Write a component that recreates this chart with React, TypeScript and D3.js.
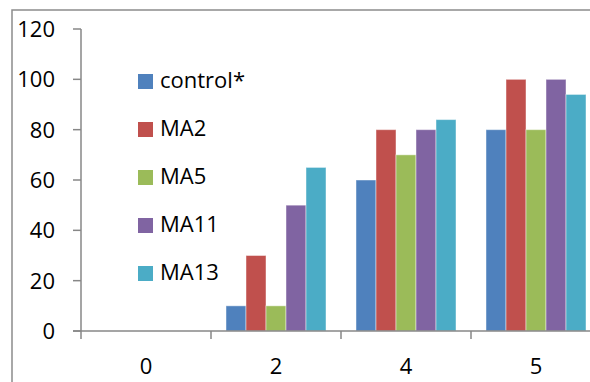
import React from "react";
import * as d3 from "d3";

const categories = ["0", "2", "4", "5"];
const seriesNames = ["control*", "MA2", "MA5", "MA11", "MA13"];
const control = [0, 10, 60, 80];
const ma2 = [0, 30, 80, 100];
const ma5 = [0, 10, 70, 80];
const ma11 = [0, 50, 80, 100];
const ma13 = [0, 65, 84, 94];
const seriesValues = [control, ma2, ma5, ma11, ma13];
const colors = ["#4F81BD", "#C0504D", "#9BBB59", "#8064A2", "#4BACC6"];
const yTicks = [0, 20, 40, 60, 80, 100, 120];

export default function App() {
  const W = 590, H = 382;
  const x0 = 81, yBottom = 331, yTop = 29;
  const bandW = 130;
  const x = d3.scaleBand<string>().domain(categories).range([x0, x0 + bandW * categories.length]).padding(0);
  const inner = d3.scaleBand<string>().domain(seriesNames).range([15, bandW - 15]).padding(0);
  const y = d3.scaleLinear().domain([0, 120]).range([yBottom, yTop]);
  const font = "'Open Sans', sans-serif";
  const axisColor = "#878787";
  return (
    <svg width={W} height={H} style={{ position: "absolute", left: 0, top: 0 }}>
      <rect x={0} y={0} width={W} height={H} fill="#fff" />
      <rect x={12} y={10} width={W + 20} height={H + 20} fill="none" stroke="#8c8c8c" strokeWidth={1.5} />
      {seriesValues.map((vals, si) =>
        vals.map((v, ci) => {
          if (v <= 0) return null;
          const bx = (x(categories[ci]) as number) + (inner(seriesNames[si]) as number);
          return (
            <rect
              key={`${si}-${ci}`}
              x={bx}
              y={y(v)}
              width={inner.bandwidth()}
              height={yBottom - y(v)}
              fill={colors[si]}
              stroke="rgba(255,255,255,0.45)"
              strokeWidth={1}
            />
          );
        })
      )}
      <line x1={x0} x2={x0} y1={yTop} y2={yBottom} stroke={axisColor} strokeWidth={1.5} />
      {yTicks.map((t) => (
        <g key={t}>
          <line x1={73} x2={x0} y1={y(t)} y2={y(t)} stroke={axisColor} strokeWidth={1.5} />
          <text x={55} y={y(t) + 8} textAnchor="end" fontFamily={font} fontSize={22} fill="#000">
            {t}
          </text>
        </g>
      ))}
      <line x1={73} x2={W + 10} y1={yBottom} y2={yBottom} stroke={axisColor} strokeWidth={1.5} />
      {categories.map((c, i) => (
        <g key={c}>
          <line
            x1={(x(c) as number)}
            x2={(x(c) as number)}
            y1={yBottom}
            y2={339}
            stroke={axisColor}
            strokeWidth={1.5}
          />
          <text
            x={(x(c) as number) + x.bandwidth() / 2}
            y={374}
            textAnchor="middle"
            fontFamily={font}
            fontSize={22}
            fill="#000"
          >
            {c}
          </text>
        </g>
      ))}
      {seriesNames.map((s, i) => {
        const cy = 81 + i * 48;
        return (
          <g key={s}>
            <rect x={138} y={cy - 7} width={15} height={15} fill={colors[i]} />
            <text x={160} y={cy + 7} fontFamily={font} fontSize={22} fill="#000">
              {s}
            </text>
          </g>
        );
      })}
    </svg>
  );
}
